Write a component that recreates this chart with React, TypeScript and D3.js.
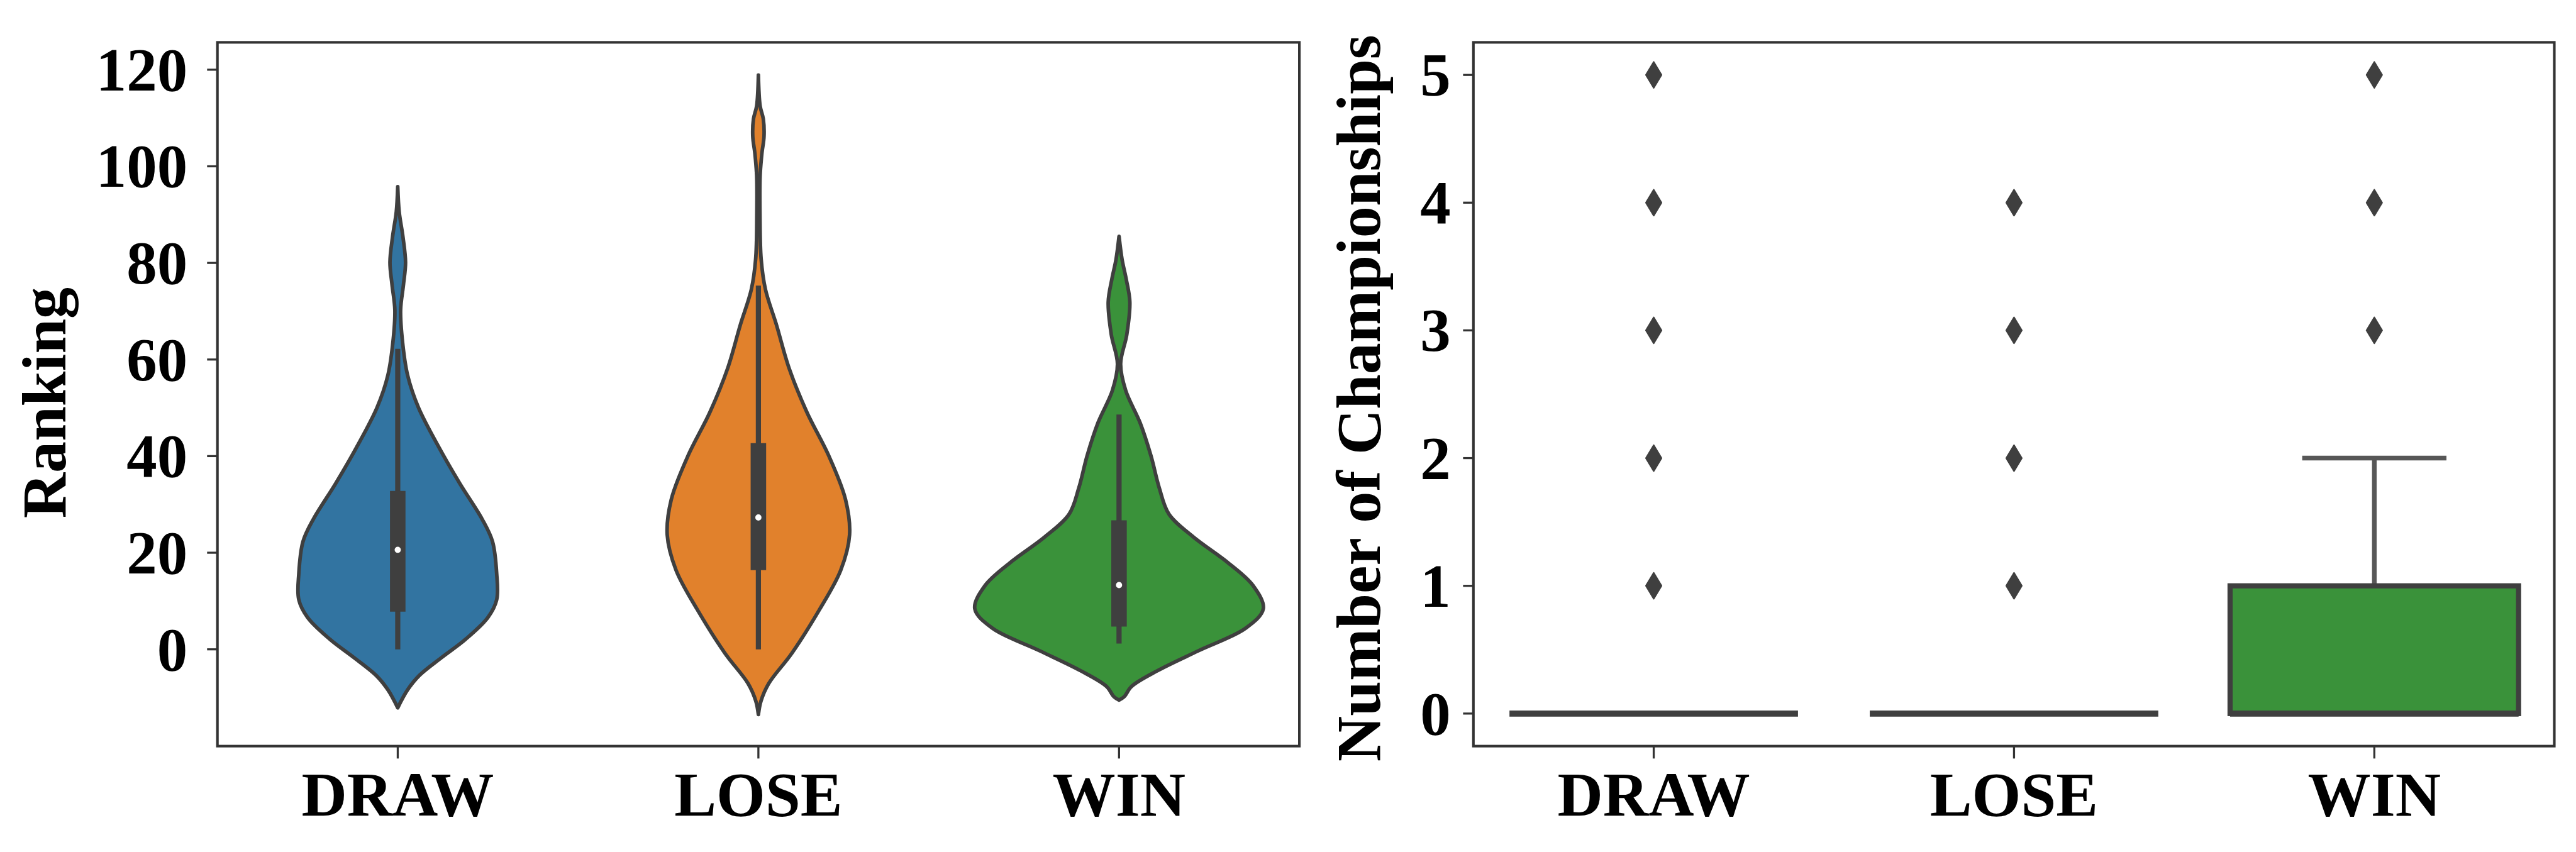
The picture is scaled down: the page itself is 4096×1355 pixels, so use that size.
import React from 'react';
import * as d3 from 'd3';

// categories + palette (seaborn, saturation .75)
const categories = ['DRAW', 'LOSE', 'WIN'];
const colors = ['#3274a1', '#e1812c', '#3a923a'];

// left panel: violin outlines, [ranking, relative density]
const drawProfile: [number, number][] = [
  [95.8, 0], [90.6, 0.01], [85.4, 0.036], [80.1, 0.054], [75.6, 0.04], [70.3, 0.02],
  [64.3, 0.031], [56.8, 0.068], [50.1, 0.143], [41.8, 0.286], [34.4, 0.429], [26.9, 0.586],
  [22.3, 0.657], [15.6, 0.686], [10.3, 0.686], [6.6, 0.625], [2.1, 0.471], [-1.7, 0.304],
  [-5.4, 0.15], [-8.4, 0.068], [-12.1, 0],
];
const loseProfile: [number, number][] = [
  [118.9, 0], [112.5, 0.012], [109.8, 0.034], [106.2, 0.039], [102.6, 0.024], [98.0, 0.012],
  [89.9, 0.011], [80.8, 0.019], [74.5, 0.049], [67.2, 0.125], [58.1, 0.214], [49.1, 0.336],
  [40.0, 0.489], [31.0, 0.604], [23.7, 0.632], [16.4, 0.571], [8.3, 0.425], [-0.8, 0.232],
  [-7.1, 0.071], [-10.7, 0.018], [-13.5, 0],
];
const winProfile: [number, number][] = [
  [85.5, 0], [80.7, 0.021], [76.6, 0.05], [71.9, 0.075], [65.2, 0.054], [59.1, 0.011],
  [53.6, 0.046], [46.9, 0.146], [40.1, 0.221], [33.4, 0.279], [28.0, 0.346], [23.3, 0.514],
  [17.9, 0.757], [13.2, 0.929], [8.4, 1.0], [4.4, 0.879], [-0.3, 0.55], [-4.4, 0.268],
  [-7.7, 0.086], [-9.8, 0.036], [-10.5, 0],
];
const profiles = [drawProfile, loseProfile, winProfile];

// inner box of each violin
const rankQ1 = [7.8, 16.4, 4.7];
const rankMedian = [20.6, 27.3, 13.3];
const rankQ3 = [32.8, 42.7, 26.7];
const rankWhiskLo = [0, 0, 1.2];
const rankWhiskHi = [62.2, 75.3, 48.6];
const rankTicks = [0, 20, 40, 60, 80, 100, 120];

// right panel: boxplot of championships
const champQ1 = [0, 0, 0];
const champMedian = [0, 0, 0];
const champQ3 = [0, 0, 1];
const champWhiskHi = [0, 0, 2];
const champFliers = [[1, 2, 3, 4, 5], [1, 2, 3, 4], [3, 4, 5]];
const champTicks = [0, 1, 2, 3, 4, 5];

const W = 4988, H = 1650;
const FONT = "'Liberation Serif', 'Times New Roman', serif";
const GRAY = '#3f3f3f';
const SPINE = '#333';

const top = 82, bottom = 1445;
const left1 = 421, right1 = 2516;
const left2 = 2853, right2 = 4946;

const App = () => {
  const x1 = d3.scaleBand().domain(categories).range([left1, right1]);
  const x2 = d3.scaleBand().domain(categories).range([left2, right2]);
  const y1 = d3.scaleLinear().domain([-20.04, 125.66]).range([bottom, top]);
  const y2 = d3.scaleLinear().domain([-0.255, 5.255]).range([bottom, top]);
  const bw = x1.bandwidth();
  const half = 0.4 * bw;

  const violin = (i: number) => {
    const cx = x1(categories[i])! + bw / 2;
    const area = d3.area<[number, number]>()
      .y(d => y1(d[0]))
      .x0(d => cx - d[1] * half)
      .x1(d => cx + d[1] * half)
      .curve(d3.curveCatmullRom.alpha(0.5));
    return area(profiles[i]) || '';
  };

  const diamond = 'M0,-25 L15,0 L0,25 L-15,0 Z';

  return (
    <svg width={4096} height={1355} viewBox={`0 0 ${W} ${H}`}
      style={{position: 'absolute', left: 0, top: 0, background: '#fff'}}>
      <rect x={0} y={0} width={W} height={H} fill="#fff" />

      {/* ---------- left: violins ---------- */}
      {categories.map((c, i) => {
        const cx = x1(c)! + bw / 2;
        return (
          <g key={'v' + c}>
            <path d={violin(i)} fill={colors[i]} stroke={GRAY} strokeWidth={7} strokeLinejoin="round" />
            <line x1={cx} x2={cx} y1={y1(rankWhiskLo[i])} y2={y1(rankWhiskHi[i])} stroke={GRAY} strokeWidth={10} />
            <line x1={cx} x2={cx} y1={y1(rankQ1[i])} y2={y1(rankQ3[i])} stroke={GRAY} strokeWidth={30} />
            <circle cx={cx} cy={y1(rankMedian[i])} r={6} fill="#fff" />
          </g>
        );
      })}

      <rect x={left1} y={top} width={right1 - left1} height={bottom - top} fill="none" stroke={SPINE} strokeWidth={5} />
      {rankTicks.map(t => (
        <g key={'yt1' + t}>
          <line x1={left1 - 20} x2={left1} y1={y1(t)} y2={y1(t)} stroke={SPINE} strokeWidth={4} />
          <text x={left1 - 58} y={y1(t)} dy="0.34em" textAnchor="end" fontFamily={FONT}
            fontWeight="bold" fontSize={118}>{t}</text>
        </g>
      ))}
      {categories.map(c => {
        const cx = x1(c)! + bw / 2;
        return (
          <g key={'xt1' + c}>
            <line x1={cx} x2={cx} y1={bottom} y2={bottom + 24} stroke={SPINE} strokeWidth={4} />
            <text x={cx} y={1580} textAnchor="middle" fontFamily={FONT} fontWeight="bold" fontSize={122}>{c}</text>
          </g>
        );
      })}
      <text transform={`translate(127,780) rotate(-90)`} textAnchor="middle" fontFamily={FONT}
        fontWeight="bold" fontSize={122}>Ranking</text>

      {/* ---------- right: boxplot ---------- */}
      {categories.map((c, i) => {
        const cx = x2(c)! + bw / 2;
        const bx0 = cx - 0.4 * bw, bx1 = cx + 0.4 * bw;
        return (
          <g key={'b' + c}>
            {champWhiskHi[i] > champQ3[i] && (
              <g>
                <line x1={cx} x2={cx} y1={y2(champQ3[i])} y2={y2(champWhiskHi[i])} stroke="#575757" strokeWidth={9} />
                <line x1={cx - 0.2 * bw} x2={cx + 0.2 * bw} y1={y2(champWhiskHi[i])} y2={y2(champWhiskHi[i])}
                  stroke="#575757" strokeWidth={9} />
              </g>
            )}
            <rect x={bx0} width={bx1 - bx0} y={y2(champQ3[i])} height={y2(champQ1[i]) - y2(champQ3[i])}
              fill={colors[i]} stroke={GRAY} strokeWidth={10} />
            <line x1={bx0} x2={bx1} y1={y2(champMedian[i])} y2={y2(champMedian[i])} stroke={GRAY} strokeWidth={12} />
            {champFliers[i].map(f => (
              <path key={f} d={diamond} transform={`translate(${cx},${y2(f)})`} fill={GRAY}
                stroke={GRAY} strokeWidth={3} strokeLinejoin="round" />
            ))}
          </g>
        );
      })}

      <rect x={left2} y={top} width={right2 - left2} height={bottom - top} fill="none" stroke={SPINE} strokeWidth={5} />
      {champTicks.map(t => (
        <g key={'yt2' + t}>
          <line x1={left2 - 20} x2={left2} y1={y2(t)} y2={y2(t)} stroke={SPINE} strokeWidth={4} />
          <text x={left2 - 44} y={y2(t)} dy="0.34em" textAnchor="end" fontFamily={FONT}
            fontWeight="bold" fontSize={118}>{t}</text>
        </g>
      ))}
      {categories.map(c => {
        const cx = x2(c)! + bw / 2;
        return (
          <g key={'xt2' + c}>
            <line x1={cx} x2={cx} y1={bottom} y2={bottom + 24} stroke={SPINE} strokeWidth={4} />
            <text x={cx} y={1580} textAnchor="middle" fontFamily={FONT} fontWeight="bold" fontSize={122}>{c}</text>
          </g>
        );
      })}
      <text transform={`translate(2672,771) rotate(-90)`} textAnchor="middle" fontFamily={FONT}
        fontWeight="bold" fontSize={122}>Number of Championships</text>
    </svg>
  );
};

export default App;
